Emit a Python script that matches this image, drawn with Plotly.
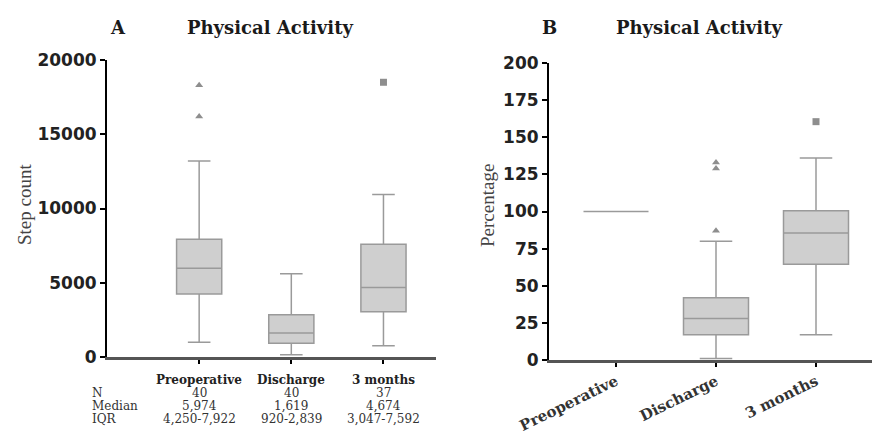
import plotly.graph_objects as go

W, H = 872, 439

categories = ["Preoperative", "Discharge", "3 months"]

# Panel A: step count
a_q1 = [4250, 920, 3047]
a_median = [5974, 1619, 4674]
a_q3 = [7922, 2839, 7592]
a_lower = [1000, 150, 750]
a_upper = [13200, 5600, 10950]
a_tri_cat = ["Preoperative", "Preoperative"]
a_tri_val = [16200, 18300]
a_sq_cat = ["3 months"]
a_sq_val = [18500]

# Table under panel A
tbl_n = ["40", "40", "37"]
tbl_median = ["5,974", "1,619", "4,674"]
tbl_iqr = ["4,250-7,922", "920-2,839", "3,047-7,592"]
row_labels = ["N", "Median", "IQR"]

# Panel B: percentage
b_q1 = [100, 17, 64.5]
b_median = [100, 28, 85.5]
b_q3 = [100, 42, 100.5]
b_lower = [100, 1, 17]
b_upper = [100, 80, 136]
b_tri_cat = ["Discharge", "Discharge", "Discharge"]
b_tri_val = [87, 129, 133]
b_sq_cat = ["3 months"]
b_sq_val = [160.5]

FILL = "#cfcfcf"
LINE = "#9a9a9a"
MK = "#8e8e8e"


def px_x(p):
    return p / W


def px_y(p):
    return 1 - p / H


fig = go.Figure()

fig.add_trace(go.Box(
    x=categories, q1=a_q1, median=a_median, q3=a_q3,
    lowerfence=a_lower, upperfence=a_upper,
    fillcolor=FILL, line=dict(color=LINE, width=1.5),
    width=0.49, whiskerwidth=0.5, boxpoints=False,
    xaxis="x", yaxis="y", showlegend=False, hoverinfo="skip"))
fig.add_trace(go.Scatter(x=a_tri_cat, y=a_tri_val, mode="markers",
                         marker=dict(symbol="triangle-up", size=7, color=MK),
                         xaxis="x", yaxis="y", showlegend=False))
fig.add_trace(go.Scatter(x=a_sq_cat, y=a_sq_val, mode="markers",
                         marker=dict(symbol="square", size=7, color=MK),
                         xaxis="x", yaxis="y", showlegend=False))

fig.add_trace(go.Box(
    x=categories, q1=b_q1, median=b_median, q3=b_q3,
    lowerfence=b_lower, upperfence=b_upper,
    fillcolor=FILL, line=dict(color=LINE, width=1.5),
    width=0.65, whiskerwidth=0.5, boxpoints=False,
    xaxis="x2", yaxis="y2", showlegend=False, hoverinfo="skip"))
fig.add_trace(go.Scatter(x=b_tri_cat, y=b_tri_val, mode="markers",
                         marker=dict(symbol="triangle-up", size=7, color=MK),
                         xaxis="x2", yaxis="y2", showlegend=False))
fig.add_trace(go.Scatter(x=b_sq_cat, y=b_sq_val, mode="markers",
                         marker=dict(symbol="square", size=7, color=MK),
                         xaxis="x2", yaxis="y2", showlegend=False))

tickfont_b = dict(family="DejaVu Sans", size=17, color="#222", weight="bold")

yax_common = dict(showline=True, linecolor="black", linewidth=2,
                  ticks="outside", ticklen=5, tickwidth=2, tickcolor="black",
                  showgrid=False, zeroline=False, tickfont=tickfont_b,
                  tickformat="d", automargin=False)
xax_common = dict(showline=True, linecolor="#555", linewidth=3,
                  ticks="outside", ticklen=4, tickwidth=2, tickcolor="black",
                  showgrid=False, zeroline=False, type="category",
                  categoryorder="array", categoryarray=categories,
                  automargin=False)

fig.update_layout(
    width=W, height=H, margin=dict(l=0, r=0, t=0, b=0, autoexpand=False),
    paper_bgcolor="white", plot_bgcolor="white", showlegend=False,
    xaxis=dict(domain=[px_x(107), px_x(436)], anchor="y",
               range=[-1.0, 2.57], showticklabels=False, **xax_common),
    yaxis=dict(domain=[px_y(357), px_y(60)], anchor="x",
               range=[0, 20000], dtick=5000, **yax_common),
    xaxis2=dict(domain=[px_x(549), 1.0], anchor="y2",
                range=[-0.67, 2.56], tickangle=-26,
                tickfont=dict(family="DejaVu Serif", size=15, color="#333", weight="bold"),
                **xax_common),
    yaxis2=dict(domain=[px_y(360), px_y(63)], anchor="x2",
                range=[0, 200], dtick=25, **yax_common),
)

serif = "DejaVu Serif"
ttl = dict(family="DejaVu Serif", size=18, color="#1a1a1a")
ann = []
# Titles
for txt, xp in [("<b>A</b>", 118), ("<b>Physical Activity</b>", 270),
                ("<b>B</b>", 549), ("<b>Physical Activity</b>", 699)]:
    ann.append(dict(text=txt, x=px_x(xp), y=px_y(27), xref="paper", yref="paper",
                    xanchor="center", yanchor="middle", showarrow=False, font=ttl))
# Axis titles
ann.append(dict(text="Step count", x=px_x(24), y=px_y(205), xref="paper", yref="paper",
                textangle=-90, xanchor="center", yanchor="middle", showarrow=False,
                font=dict(family="Liberation Serif", size=19, color="#444")))
ann.append(dict(text="Percentage", x=px_x(487), y=px_y(206), xref="paper", yref="paper",
                textangle=-90, xanchor="center", yanchor="middle", showarrow=False,
                font=dict(family="Liberation Serif", size=19, color="#444")))
# Table
row_y = [393, 406, 419]
for lbl, yy in zip(row_labels, row_y):
    ann.append(dict(text=lbl, x=px_x(90), y=px_y(yy), xref="paper", yref="paper",
                    xanchor="left", yanchor="middle", showarrow=False,
                    font=dict(family=serif, size=12, color="#333")))
for i, c in enumerate(categories):
    ann.append(dict(text="<b>" + c + "</b>", x=c, y=px_y(380), xref="x", yref="paper",
                    xanchor="center", yanchor="middle", showarrow=False,
                    font=dict(family=serif, size=12, color="#222")))
    for vals, yy in zip([tbl_n, tbl_median, tbl_iqr], row_y):
        ann.append(dict(text=vals[i], x=c, y=px_y(yy), xref="x", yref="paper",
                        xanchor="center", yanchor="middle", showarrow=False,
                        font=dict(family=serif, size=12, color="#333")))

fig.update_layout(annotations=ann)
fig.write_html("out.html")
